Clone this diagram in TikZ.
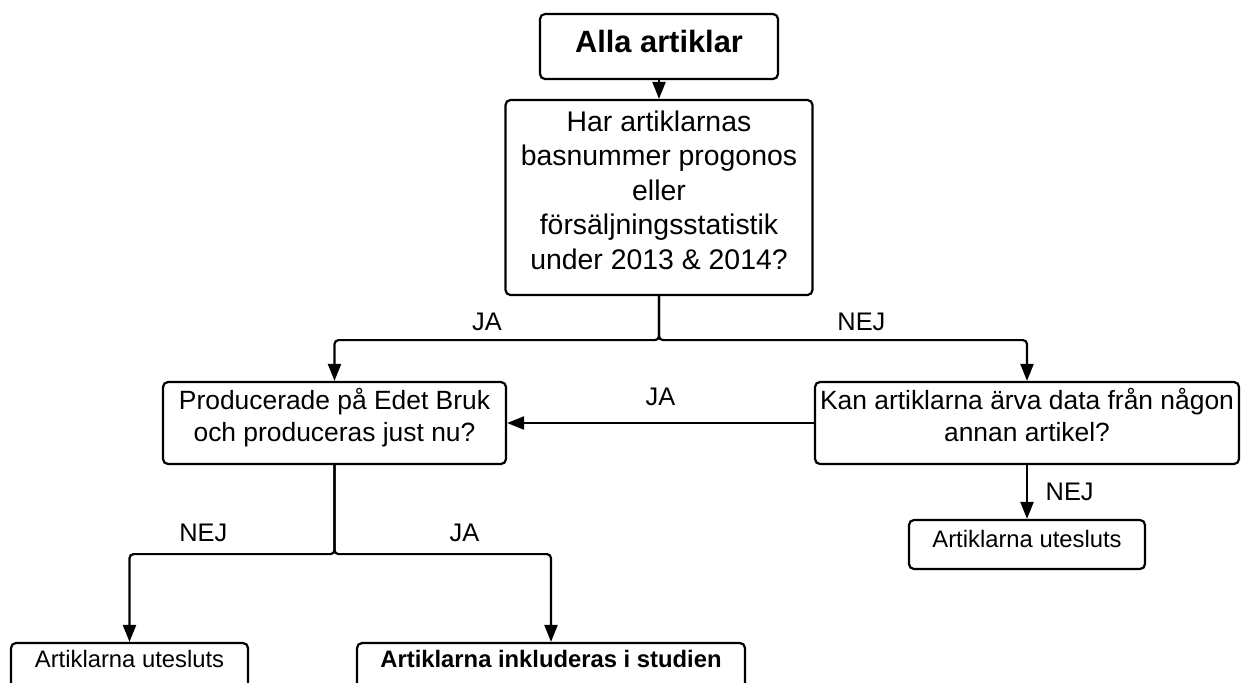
\documentclass[tikz,border=0pt]{standalone}
\usepackage{fontspec}
\setmainfont{Liberation Sans}
\usepackage{tikz}
\usetikzlibrary{arrows.meta,positioning,shapes}
\tikzset{%
	box/.style      = {draw, rectangle, rounded corners=2.5pt, line width=1.1pt, align=center, inner sep=2pt, on grid},
	startbox/.style = {box, minimum width=119pt, minimum height=32.5pt, text depth=5pt, font=\bfseries\fontsize{15.4}{18}\selectfont}, % Start
	mainq/.style    = {box, minimum width=153.5pt, minimum height=97.5pt, text depth=7.5pt, font=\fontsize{14.2}{17.25}\selectfont},
	question/.style = {box, minimum height=41pt, text depth=8pt, font=\fontsize{13.2}{16}\selectfont},
	result/.style   = {box, minimum height=24.5pt, text depth=5.5pt, font=\fontsize{11.9}{14}\selectfont}, % End
	answer/.style   = {inner sep=4pt, font=\fontsize{12.7}{15}\selectfont},
	arrow/.style    = {line width=1.1pt, rounded corners=2pt, -{Triangle[length=8.5pt,width=6.5pt]}},
}
\begin{document}
\begin{tikzpicture}
	\useasboundingbox (0,0) rectangle (620.5pt,-341pt);
	\node[startbox] (alla) at (329.5pt,-23.25pt) {Alla artiklar};
	\node[mainq, below=75.5pt of alla] (fraga) {Har artiklarnas\\basnummer progonos\\eller\\försäljningsstatistik\\under 2013 \& 2014?};
	\node[question, minimum width=171.5pt, below left=112.75pt and 162.25pt of fraga] (prod) {Producerade på Edet Bruk\\och produceras just nu?};
	\node[question, minimum width=212pt, right=346.25pt of prod] (arva) {Kan artiklarna ärva data från någon\\annan artikel?};
	\node[result, minimum width=118pt, below=60.75pt of arva] (ut1) {Artiklarna utesluts};
	\node[result, minimum width=118.5pt, text depth=9pt, below left=122.25pt and 102.5pt of prod] (ut2) {Artiklarna utesluts};
	\node[result, minimum width=194pt, text depth=9pt, font=\bfseries\fontsize{11.9}{14}\selectfont, below right=122.25pt and 108.25pt of prod] (inkl) {Artiklarna inkluderas i studien};
	% connectors
	\draw[arrow] (alla) -- (fraga);
	\draw[arrow] (fraga.south) -- ++(0,-22pt) -| node[answer, pos=0.265, above] {JA} (prod.north);
	\draw[arrow] (fraga.south) -- ++(0,-22pt) -| node[answer, pos=0.275, above] {NEJ} (arva.north);
	\draw[arrow] (arva) -- node[answer, above=4.25pt] {JA} (prod);
	\draw[arrow] (arva) -- node[answer, right=4.8pt] {NEJ} (ut1);
	\draw[arrow] (prod.south) -- ++(0,-44.5pt) -| node[answer, pos=0.32, above=1.5pt] {NEJ} (ut2.north);
	\draw[arrow] (prod.south) -- ++(0,-44.5pt) -| node[answer, pos=0.3, above=1.5pt] {JA} (inkl.north);
\end{tikzpicture}
\end{document}
